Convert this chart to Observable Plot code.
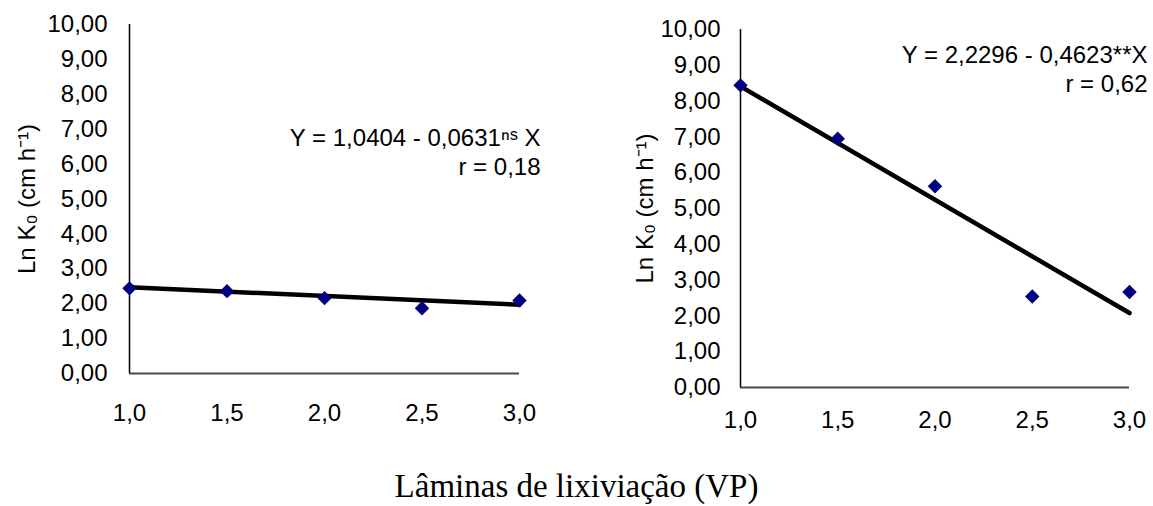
<!DOCTYPE html>
<html>
<head>
<meta charset="utf-8">
<script src="https://cdn.jsdelivr.net/npm/d3@7"></script>
<script src="https://cdn.jsdelivr.net/npm/@observablehq/plot@0.6"></script>
<style>
  html, body { margin: 0; padding: 0; background: #fff; }
  #wrap { position: relative; width: 1153px; height: 506px; overflow: hidden; }
  #left { position: absolute; left: 0; top: 0; }
  #right { position: absolute; left: 590px; top: 0; }
  #caption { position: absolute; left: 0; width: 1153px; top: 468px; text-align: center;
    font-family: "Liberation Serif", "Times New Roman", serif; font-size: 33px; color: #000; line-height: 36px; }
  svg text { fill: #000; }
</style>
</head>
<body>
<div id="wrap">
  <div id="left"></div>
  <div id="right"></div>
  <div id="caption">Lâminas de lixiviação (VP)</div>
</div>
<script>
// ---- data ----
const laminas = [1.0, 1.5, 2.0, 2.5, 3.0];
const lnK0Left = [2.44, 2.36, 2.16, 1.87, 2.09];
const lnK0Right = [8.44, 6.95, 5.62, 2.54, 2.67];
const trendX = [1.0, 3.0];
const trendLeft = [2.47, 1.97];
const trendRight = [8.41, 2.08];
const yTicks = [0, 1, 2, 3, 4, 5, 6, 7, 8, 9, 10];
const xTicks = [1.0, 1.5, 2.0, 2.5, 3.0];
const yLabel = "Ln K₀ (cm h⁻¹)";
const eqLeft = ["Y = 1,0404 - 0,0631ⁿˢ X", "r = 0,18"];
const eqRight = ["Y = 2,2296 - 0,4623**X", "r = 0,62"];

const fmtY = d => d.toFixed(2).replace(".", ",");
const fmtX = d => d.toFixed(1).replace(".", ",");
const FS = 24;

function chart(o) {
  const pts = laminas.map((x, i) => ({x, y: o.values[i]}));
  const trend = trendX.map((x, i) => ({x, y: o.trend[i]}));
  return Plot.plot({
    width: o.width,
    height: 440,
    marginLeft: o.ml,
    marginRight: o.mr,
    marginTop: o.mt,
    marginBottom: 440 - o.bottom,
    style: {fontFamily: "'Liberation Sans', Arial, sans-serif", fontSize: FS + "px", overflow: "visible"},
    x: {domain: [1, 3]},
    y: {domain: [0, 10]},
    marks: [
      Plot.axisY({ticks: yTicks, tickSize: 0, tickPadding: o.ypad, tickFormat: fmtY, label: null, fontSize: FS}),
      Plot.axisX({ticks: xTicks, tickSize: 0, tickPadding: o.xpad, tickFormat: fmtX, label: null, fontSize: FS}),
      Plot.ruleY([0], {stroke: "#4a4a4a", strokeWidth: 2}),
      Plot.ruleX([1], {stroke: "#000", strokeWidth: 1.5}),
      Plot.line(trend, {x: "x", y: "y", stroke: "#000", strokeWidth: 4.5}),
      Plot.dot(pts, {x: "x", y: "y", symbol: "diamond2", r: 6.5, fill: "#000080", stroke: "none"}),
      Plot.text([yLabel], {frameAnchor: "left", textAnchor: "middle", dx: -o.labOff, rotate: -90, fontSize: FS, fill: "#000"}),
      Plot.text([o.eq[0]], {frameAnchor: "top-right", textAnchor: "end", dx: o.eqdx, dy: o.eqdy1, fontSize: FS, fill: "#000"}),
      Plot.text([o.eq[1]], {frameAnchor: "top-right", textAnchor: "end", dx: o.eqdx, dy: o.eqdy2, fontSize: FS, fill: "#000"})
    ]
  });
}

document.getElementById("left").appendChild(chart({
  width: 560, ml: 129, mr: 41, mt: 24, bottom: 373,
  values: lnK0Left, trend: trendLeft, ypad: 22, xpad: 30, labOff: 102,
  eq: eqLeft, eqdx: 21, eqdy1: 104, eqdy2: 133
}));
document.getElementById("right").appendChild(chart({
  width: 563, ml: 150, mr: 24, mt: 29, bottom: 387,
  values: lnK0Right, trend: trendRight, ypad: 20, xpad: 23, labOff: 95,
  eq: eqRight, eqdx: 18, eqdy1: 16, eqdy2: 45
}));
</script>
</body>
</html>
